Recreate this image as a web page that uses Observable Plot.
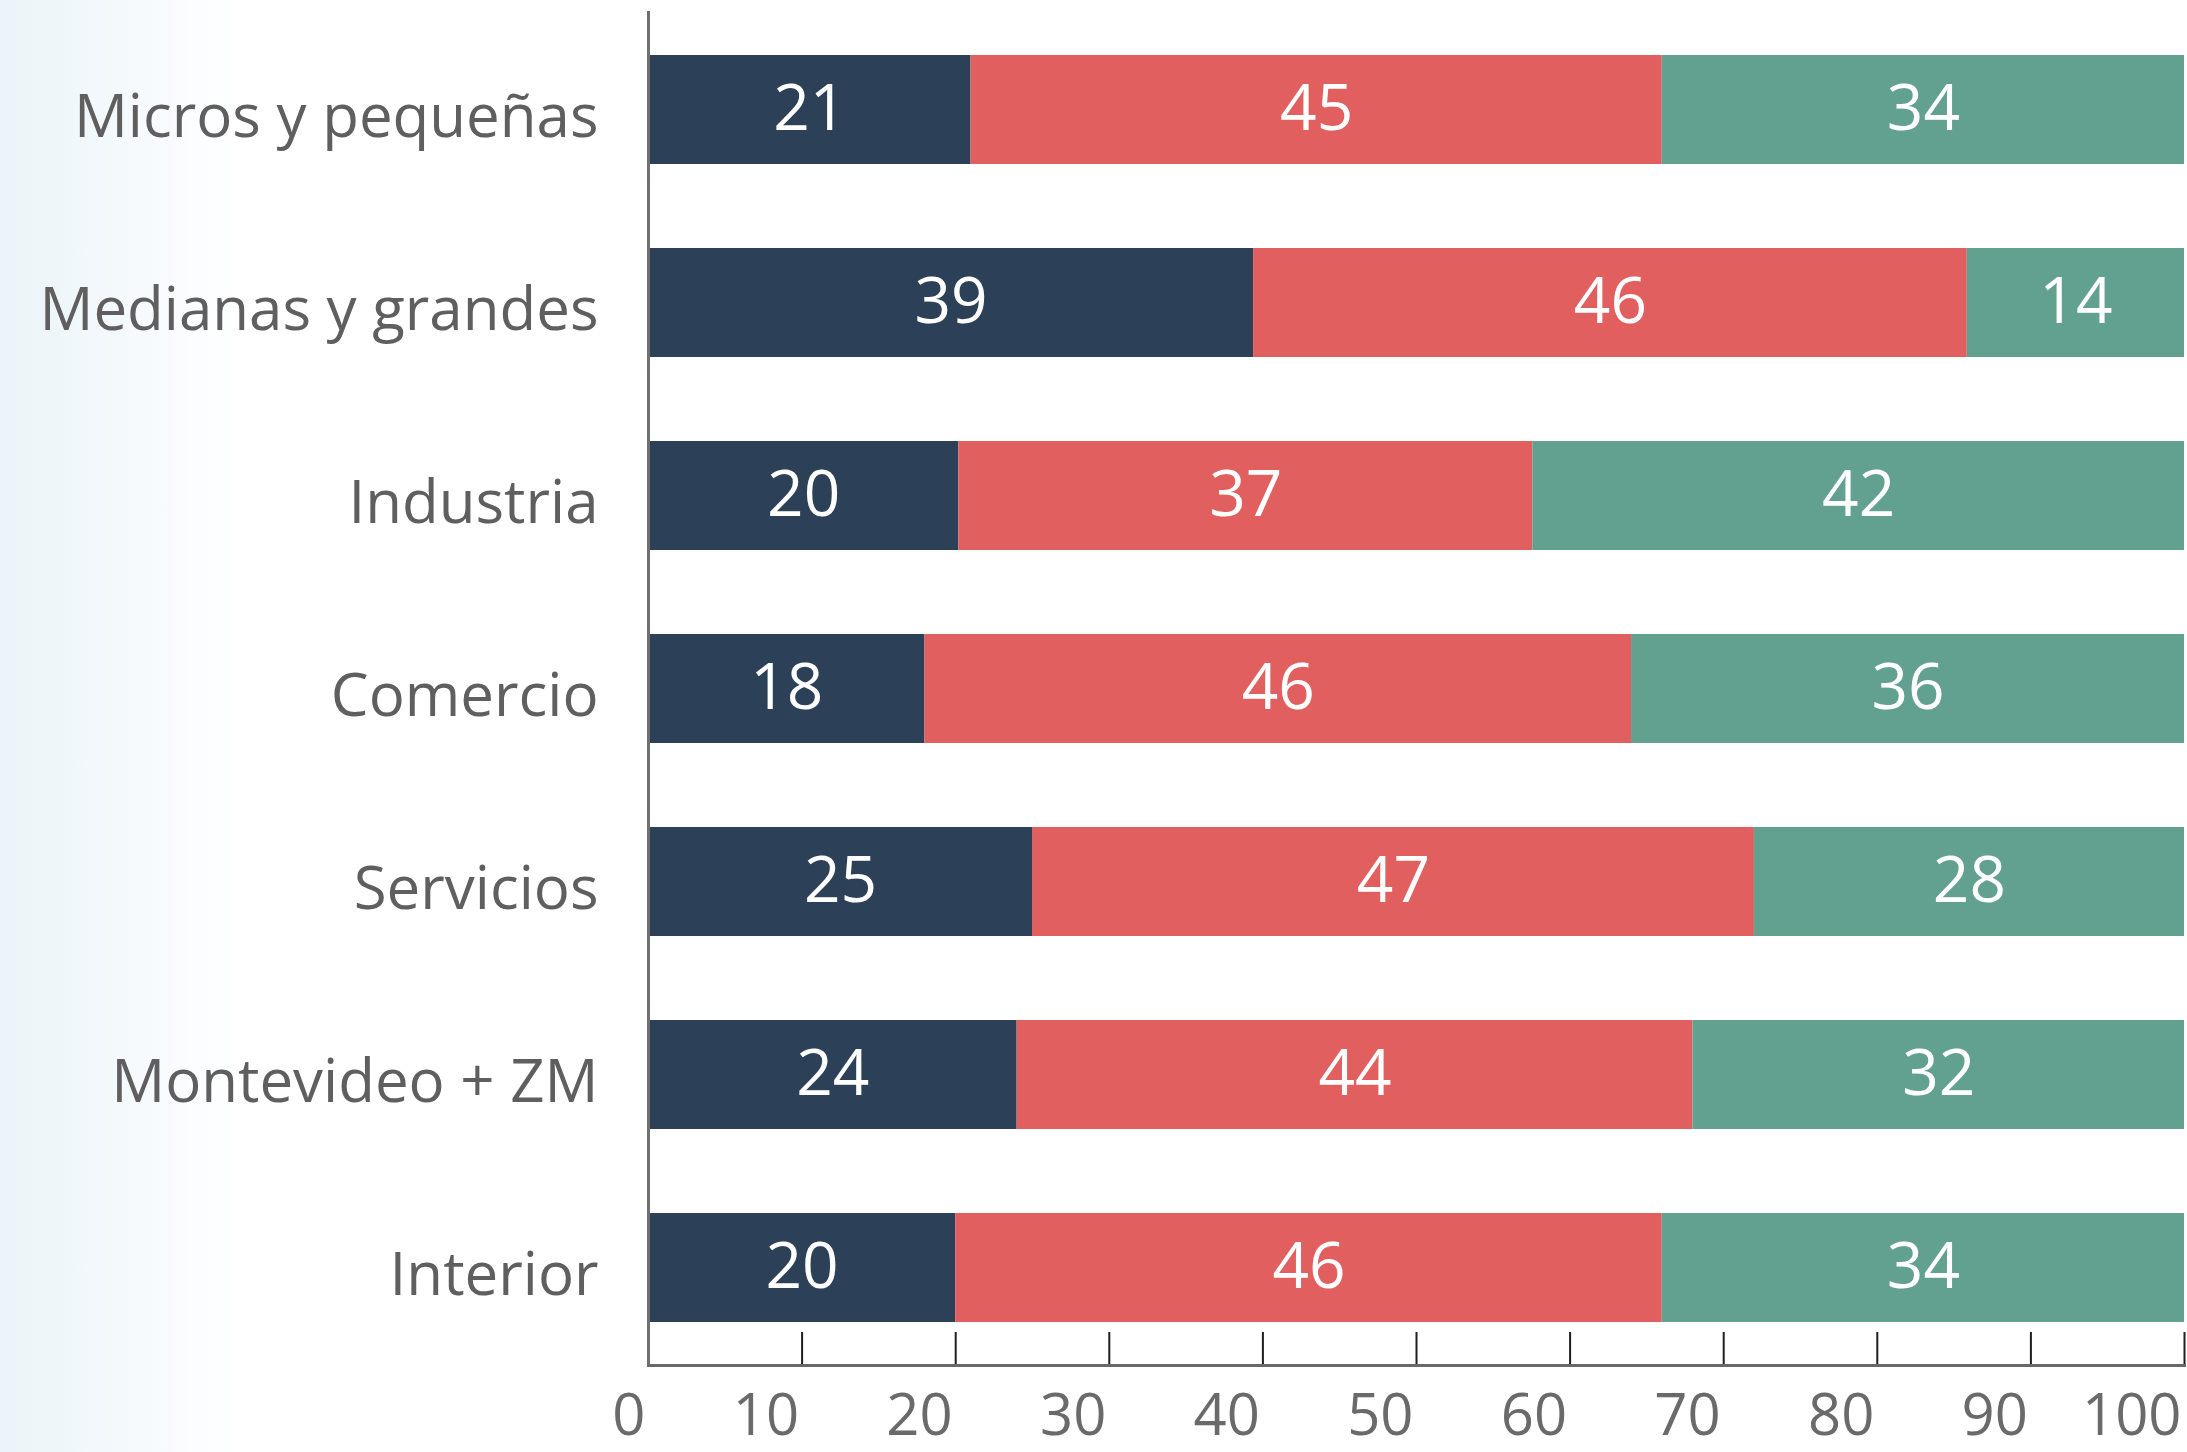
<!DOCTYPE html>
<html>
<head>
<meta charset="utf-8">
<script src="https://cdn.jsdelivr.net/npm/d3@7"></script>
<script src="https://cdn.jsdelivr.net/npm/@observablehq/plot@0.6"></script>
<style>
  html, body { margin: 0; padding: 0; }
  body {
    width: 2187px; height: 1452px; overflow: hidden;
    background: linear-gradient(to right, #ebf4f8 0px, #f4f9fc 120px, #ffffff 240px);
  }
  #chart svg { display: block; background: transparent; }
</style>
</head>
<body>
<div id="chart"></div>
<script>
// ---- data ----
const categories = [
  "Micros y pequeñas",
  "Medianas y grandes",
  "Industria",
  "Comercio",
  "Servicios",
  "Montevideo + ZM",
  "Interior"
];
const groups = ["Serie 1", "Serie 2", "Serie 3"];
const serie1 = [21, 39, 20, 18, 25, 24, 20];
const serie2 = [45, 46, 37, 46, 47, 44, 46];
const serie3 = [34, 14, 42, 36, 28, 32, 34];
const xTickLabels = [0, 10, 20, 30, 40, 50, 60, 70, 80, 90, 100];
const colors = ["#2c4157", "#e15f5f", "#62a08f"];

const seriesValues = [serie1, serie2, serie3];
const data = categories.flatMap((c, i) =>
  groups.map((g, j) => ({category: c, group: g, value: seriesValues[j][i]}))
);
const xTicks = xTickLabels.map(t => t / 100);

const font = "'Open Sans', 'Noto Sans', sans-serif";

const chart = Plot.plot({
  width: 2187,
  height: 1452,
  marginTop: 12,
  marginBottom: 87,
  marginLeft: 648,
  marginRight: 3,
  style: {background: "transparent", fontFamily: font},
  x: {domain: [0, 1], label: null},
  y: {domain: categories, paddingInner: 0.436, paddingOuter: 0.22, label: null},
  color: {domain: groups, range: colors},
  marks: [
    Plot.barX(data, Plot.stackX({
      x: "value", y: "category", z: "group", fill: "group", offset: "normalize"
    })),
    Plot.text(data, Plot.stackX({
      x: "value", y: "category", z: "group", offset: "normalize",
      text: d => String(d.value), fill: "white", fontSize: 64
    })),
    Plot.axisX(xTicks, {
      tickSize: -33, stroke: "#1e1e1e", strokeWidth: 2, text: null
    }),
    Plot.frame({anchor: "left", stroke: "#707070", strokeWidth: 3}),
    Plot.frame({anchor: "bottom", stroke: "#686868", strokeWidth: 3}),
    Plot.axisX(xTicks, {
      tickSize: 0, tickPadding: 28, textAnchor: "end", dx: -3,
      fontSize: 58, fill: "#6a6a6a",
      tickFormat: d => String(xTickLabels[xTicks.indexOf(d)])
    }),
    Plot.axisY({
      tickSize: 0, tickPadding: 50, fontSize: 60, fill: "#5f5f5f", dy: 8
    })
  ]
});
document.getElementById("chart").appendChild(chart);
</script>
</body>
</html>
